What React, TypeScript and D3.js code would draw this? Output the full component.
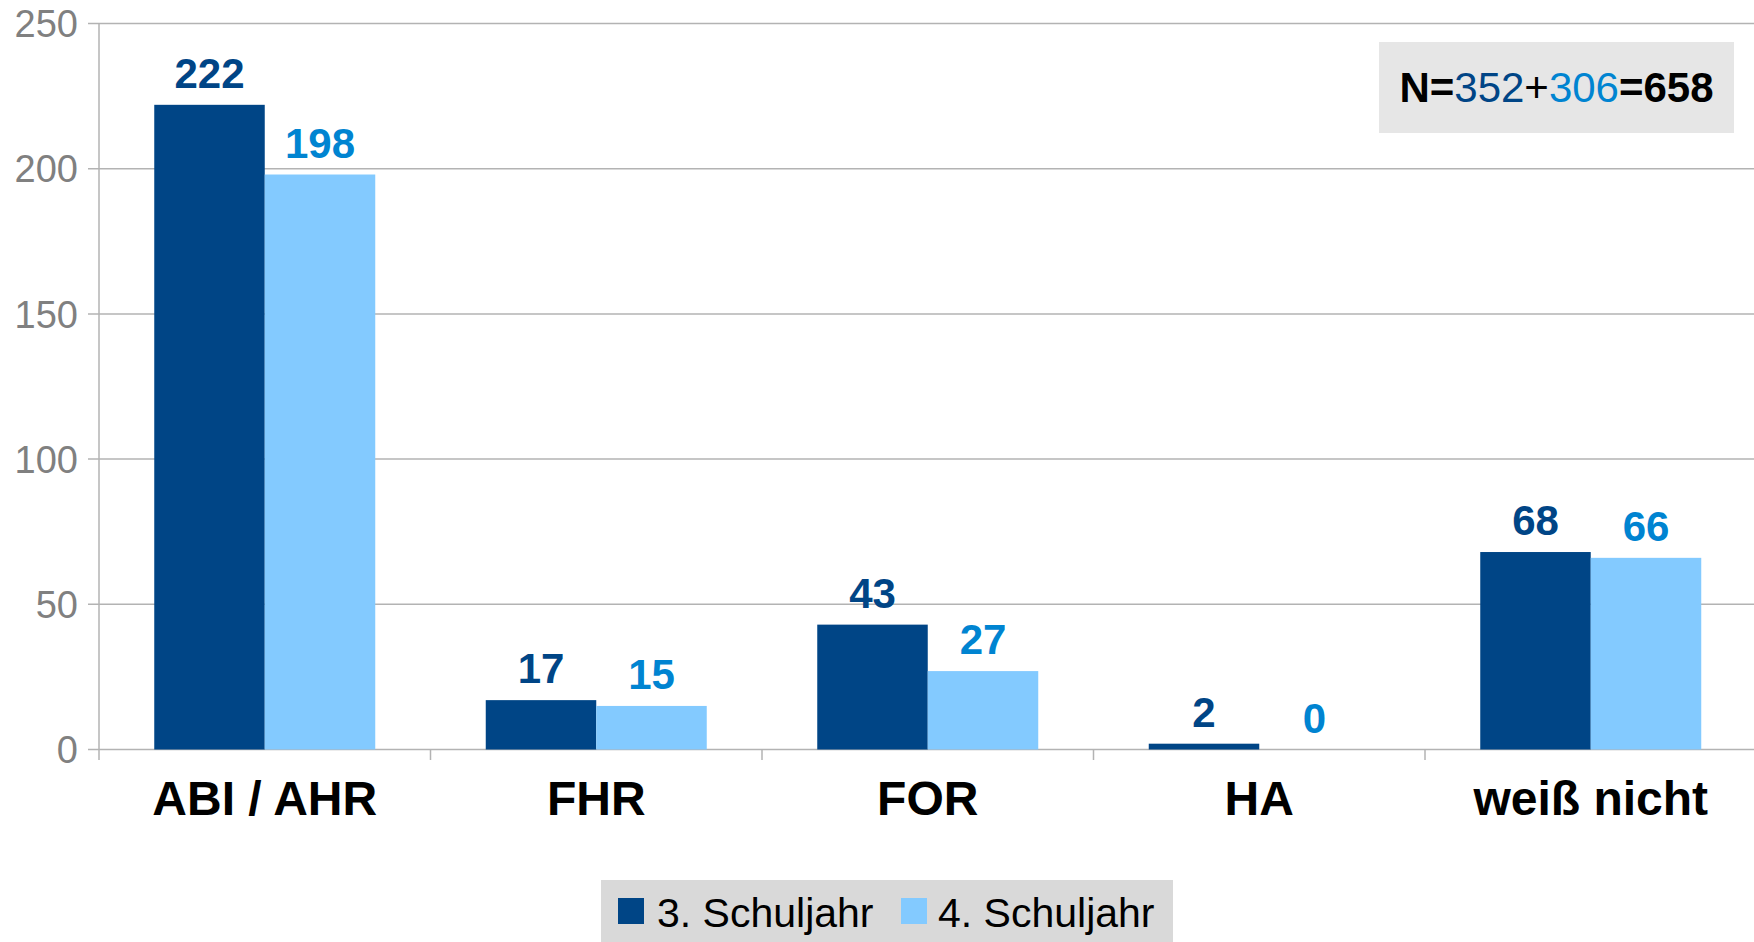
import React from "react";
import * as d3 from "d3";

const categories = ["ABI / AHR", "FHR", "FOR", "HA", "weiß nicht"];
const seriesNames = ["3. Schuljahr", "4. Schuljahr"];
const values3 = [222, 17, 43, 2, 68];
const values4 = [198, 15, 27, 0, 66];
const yTicks = [0, 50, 100, 150, 200, 250];
const nParts = { a: "352", b: "306", total: "658" };

const W = 1754;
const H = 942;
const FONT = "'Liberation Sans', Arial, Helvetica, sans-serif";
const DARK = "#004586";
const LIGHT = "#83caff";
const DARK_LABEL = "#004586";
const LIGHT_LABEL = "#0084d1";
const GRID = "#b3b3b3";

export default function App() {
  const left = 99;
  const right = 1756.5;
  const y0 = 749.5;
  const yTop = 23.5;

  const x0 = d3.scaleBand<string>().domain(categories).range([left, right]).padding(0);
  const x1 = d3
    .scaleBand<string>()
    .domain(seriesNames)
    .range([0, x0.bandwidth()])
    .paddingInner(0)
    .paddingOuter(0.5);
  const y = d3.scaleLinear().domain([0, 250]).range([y0, yTop]);

  const series = [
    { name: seriesNames[0], values: values3, fill: DARK, label: DARK_LABEL },
    { name: seriesNames[1], values: values4, fill: LIGHT, label: LIGHT_LABEL },
  ];

  const boundaries = categories.map((c) => x0(c) as number).concat([right]);

  return (
    <svg
      width={W}
      height={H}
      viewBox={`0 0 ${W} ${H}`}
      style={{ position: "absolute", left: 0, top: 0, display: "block", background: "#fff" }}
      fontFamily={FONT}
    >
      <rect x={0} y={0} width={W} height={H} fill="#fff" />
      {/* gridlines */}
      {yTicks.map((t) => (
        <g key={"g" + t}>
          <line x1={88} x2={W} y1={y(t)} y2={y(t)} stroke={GRID} strokeWidth={1.5} />
          <text
            x={78}
            y={y(t)}
            dy="0.36em"
            textAnchor="end"
            fontSize={38}
            fill="#808080"
          >
            {t}
          </text>
        </g>
      ))}
      {/* y axis line */}
      <line x1={left} x2={left} y1={yTop} y2={760} stroke={GRID} strokeWidth={1.5} />
      {/* category boundary ticks */}
      {boundaries.slice(1, 5).map((b, i) => (
        <line key={"t" + i} x1={b} x2={b} y1={y0} y2={760} stroke={GRID} strokeWidth={1.5} />
      ))}
      {/* bars */}
      {series.map((s) =>
        categories.map((c, i) => {
          const bx = (x0(c) as number) + (x1(s.name) as number);
          const by = y(s.values[i]);
          return (
            <rect
              key={s.name + c}
              x={bx}
              y={by}
              width={x1.bandwidth()}
              height={y0 - by}
              fill={s.fill}
            />
          );
        })
      )}
      {/* data labels */}
      {series.map((s) =>
        categories.map((c, i) => {
          const bx = (x0(c) as number) + (x1(s.name) as number) + x1.bandwidth() / 2;
          const by = y(s.values[i]);
          return (
            <text
              key={"l" + s.name + c}
              x={bx}
              y={by - 17}
              textAnchor="middle"
              fontSize={42}
              fontWeight="bold"
              fill={s.label}
            >
              {s.values[i]}
            </text>
          );
        })
      )}
      {/* category labels */}
      {categories.map((c) => (
        <text
          key={"c" + c}
          x={(x0(c) as number) + x0.bandwidth() / 2}
          y={815}
          textAnchor="middle"
          fontSize={48}
          fontWeight="bold"
          fill="#000"
        >
          {c}
        </text>
      ))}
      {/* N box */}
      <rect x={1379} y={42} width={355} height={91} fill="#e6e6e6" />
      <text x={1556.5} y={102} textAnchor="middle" fontSize={42} fill="#000">
        <tspan fontWeight="bold">N=</tspan>
        <tspan fill={DARK_LABEL}>{nParts.a}</tspan>
        <tspan>+</tspan>
        <tspan fill={LIGHT_LABEL}>{nParts.b}</tspan>
        <tspan fontWeight="bold">={nParts.total}</tspan>
      </text>
      {/* legend */}
      <rect x={601} y={880} width={572} height={70} fill="#d9d9d9" />
      <rect x={618} y={898} width={26} height={26} fill={DARK} />
      <text x={657} y={927} fontSize={41} fill="#000">
        {seriesNames[0]}
      </text>
      <rect x={901} y={898} width={26} height={26} fill={LIGHT} />
      <text x={938} y={927} fontSize={41} fill="#000">
        {seriesNames[1]}
      </text>
    </svg>
  );
}
